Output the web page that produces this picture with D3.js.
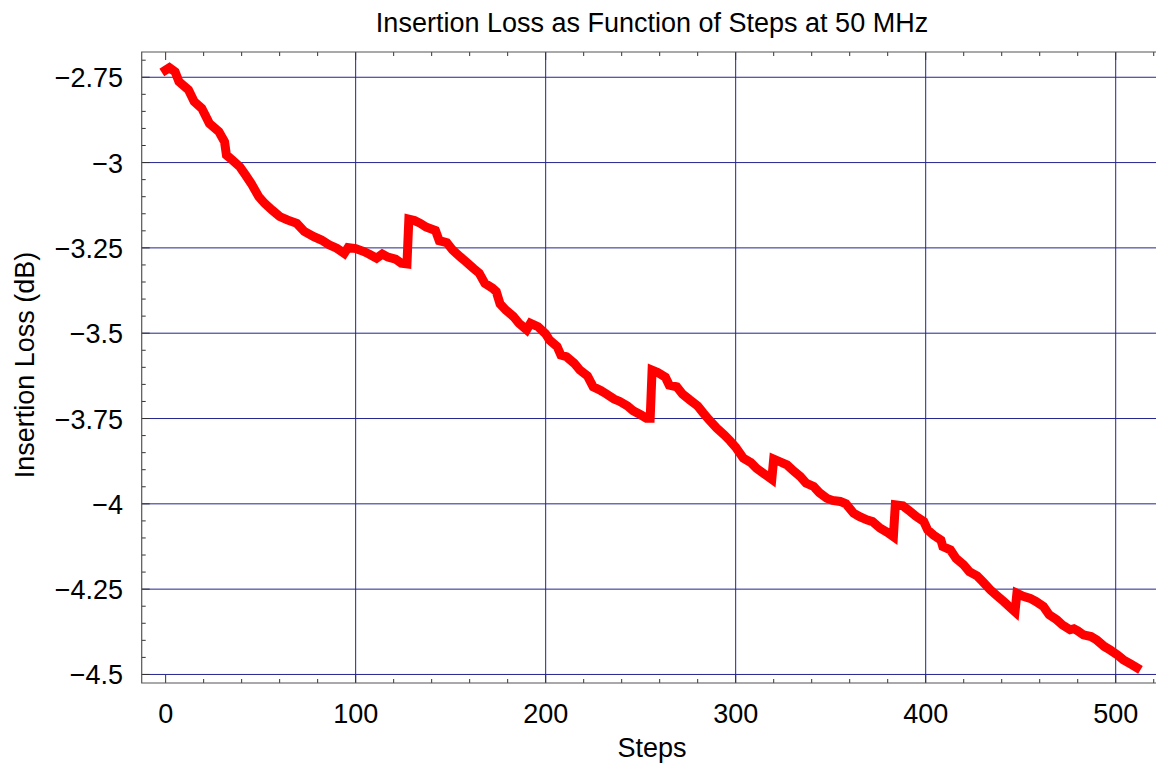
<!DOCTYPE html>
<html>
<head>
<meta charset="utf-8">
<script src="https://cdn.jsdelivr.net/npm/d3@7"></script>
<style>
  body { margin: 0; background: #fff; }
  svg text { font-family: "Liberation Sans", Arial, sans-serif; fill: #000; }
</style>
</head>
<body>
<div id="chart"></div>
<script>
// values (step number, insertion loss in dB)
const steps = [0, 2, 5, 7, 12, 15, 19, 23, 28, 31, 32, 35, 39, 42, 45, 49, 52, 56, 60, 64,
  69, 73, 78, 82, 86, 90, 94, 96, 100, 104, 107, 111, 114, 117, 121, 124, 127, 128, 131, 134,
  137, 142, 144, 148, 151, 155, 158, 162, 165, 168, 172, 174, 176, 179, 183, 186, 190, 192, 196, 200,
  202, 206, 208, 211, 215, 218, 222, 225, 229, 232, 236, 239, 243, 246, 250, 253, 255, 256, 259, 263,
  265, 269, 272, 276, 280, 283, 286, 290, 294, 297, 300, 304, 308, 311, 315, 319, 320, 323, 327, 330,
  334, 337, 341, 344, 348, 351, 355, 358, 362, 365, 369, 372, 376, 380, 383, 384, 388, 392, 395, 399,
  401, 404, 408, 409, 413, 416, 420, 423, 427, 430, 434, 437, 441, 444, 447, 448, 451, 455, 458, 462,
  465, 469, 472, 476, 478, 480, 483, 487, 490, 494, 497, 501, 504, 508, 511];
const loss = [-2.729, -2.722, -2.734, -2.763, -2.787, -2.821, -2.841, -2.885, -2.909, -2.939, -2.978, -2.992, -3.012, -3.036, -3.061, -3.100, -3.119, -3.139, -3.158, -3.168,
  -3.178, -3.202, -3.217, -3.227, -3.241, -3.251, -3.266, -3.249, -3.252, -3.260, -3.268, -3.280, -3.268, -3.277, -3.283, -3.295, -3.297, -3.166, -3.170, -3.178,
  -3.189, -3.199, -3.229, -3.235, -3.256, -3.276, -3.290, -3.310, -3.324, -3.354, -3.368, -3.378, -3.414, -3.432, -3.451, -3.471, -3.490, -3.471, -3.481, -3.502,
  -3.520, -3.539, -3.564, -3.569, -3.588, -3.608, -3.625, -3.657, -3.668, -3.678, -3.693, -3.700, -3.713, -3.727, -3.739, -3.749, -3.749, -3.608, -3.615, -3.629,
  -3.652, -3.657, -3.678, -3.696, -3.713, -3.734, -3.754, -3.778, -3.798, -3.815, -3.834, -3.866, -3.879, -3.896, -3.912, -3.928, -3.869, -3.876, -3.886, -3.901,
  -3.920, -3.939, -3.949, -3.967, -3.984, -3.990, -3.993, -4.000, -4.027, -4.037, -4.047, -4.052, -4.071, -4.084, -4.096, -4.003, -4.006, -4.023, -4.037, -4.052,
  -4.076, -4.091, -4.106, -4.125, -4.135, -4.160, -4.179, -4.199, -4.211, -4.228, -4.252, -4.267, -4.286, -4.301, -4.316, -4.262, -4.270, -4.277, -4.286, -4.301,
  -4.325, -4.340, -4.355, -4.369, -4.366, -4.372, -4.384, -4.389, -4.399, -4.418, -4.428, -4.443, -4.457, -4.470, -4.480];

const xTicks = [0, 100, 200, 300, 400, 500];
const yTicks = [-2.75, -3, -3.25, -3.5, -3.75, -4, -4.25, -4.5];
const yTickLabels = ["\u22122.75", "\u22123", "\u22123.25", "\u22123.5", "\u22123.75", "\u22124", "\u22124.25", "\u22124.5"];

const width = 1156, height = 763;
const plotLeft = 141.7, plotRight = 1156, plotTop = 52, plotBottom = 683;
const FONT = 27;

const svg = d3.select("#chart").append("svg")
    .attr("width", width)
    .attr("height", height);

const x = d3.scaleLinear().domain([-12.6, 521.2]).range([plotLeft, plotRight]);
const y = d3.scaleLinear().domain([-4.525, -2.676]).range([plotBottom, plotTop]);

// grid
svg.append("g").selectAll("line")
   .data(xTicks.slice(1))
   .enter().append("line")
   .attr("x1", d => x(d)).attr("x2", d => x(d))
   .attr("y1", plotTop).attr("y2", plotBottom)
   .attr("stroke", "#24248f").attr("stroke-width", 1);

svg.append("g").selectAll("line")
   .data(yTicks)
   .enter().append("line")
   .attr("x1", plotLeft).attr("x2", plotRight)
   .attr("y1", d => y(d)).attr("y2", d => y(d))
   .attr("stroke", "#24248f").attr("stroke-width", 1);

// frame + ticks (Mathematica style, ticks inside)
const minorX = d3.range(0, 521, 20);
const minorY = d3.range(-4.5, -2.67, 0.05);
const tickCol = "#333";

const tg = svg.append("g").attr("stroke", tickCol).attr("stroke-width", 1);
minorX.forEach(v => {
    let len = (v % 100 === 0) ? 8 : 4;
    tg.append("line").attr("x1", x(v)).attr("x2", x(v)).attr("y1", plotBottom).attr("y2", plotBottom - len);
    tg.append("line").attr("x1", x(v)).attr("x2", x(v)).attr("y1", plotTop).attr("y2", plotTop + len);
});
minorY.forEach(v => {
    let major = Math.abs(v * 4 - Math.round(v * 4)) < 1e-6;
    let len = major ? 8 : 4;
    tg.append("line").attr("x1", plotLeft).attr("x2", plotLeft + len).attr("y1", y(v)).attr("y2", y(v));
});

svg.append("g").attr("fill", "none").attr("stroke", "#555").attr("stroke-width", 1.2)
   .append("path")
   .attr("d", `M${plotRight},${plotTop}H${plotLeft}V${plotBottom}H${plotRight}`);

// data line
const line = d3.line()
    .x((d, i) => x(steps[i]))
    .y(d => y(d));

svg.append("path")
   .datum(loss)
   .attr("d", line)
   .attr("fill", "none")
   .attr("stroke", "#ff0000")
   .attr("stroke-width", 9)
   .attr("stroke-linejoin", "miter")
   .attr("stroke-linecap", "square");

// tick labels
svg.append("g").selectAll("text")
   .data(xTicks)
   .enter().append("text")
   .attr("x", d => x(d))
   .attr("y", 723)
   .attr("text-anchor", "middle")
   .attr("font-size", FONT)
   .text(d => d);

svg.append("g").selectAll("text")
   .data(yTicks)
   .enter().append("text")
   .attr("x", 123)
   .attr("y", d => y(d) + 10)
   .attr("text-anchor", "end")
   .attr("font-size", FONT)
   .text((d, i) => yTickLabels[i]);

// titles
svg.append("text")
   .attr("x", 652).attr("y", 32)
   .attr("text-anchor", "middle")
   .attr("font-size", FONT)
   .text("Insertion Loss as Function of Steps at 50 MHz");

svg.append("text")
   .attr("x", 652).attr("y", 757)
   .attr("text-anchor", "middle")
   .attr("font-size", FONT)
   .text("Steps");

svg.append("text")
   .attr("transform", "translate(34,365) rotate(-90)")
   .attr("text-anchor", "middle")
   .attr("font-size", FONT)
   .text("Insertion Loss (dB)");
</script>
</body>
</html>
